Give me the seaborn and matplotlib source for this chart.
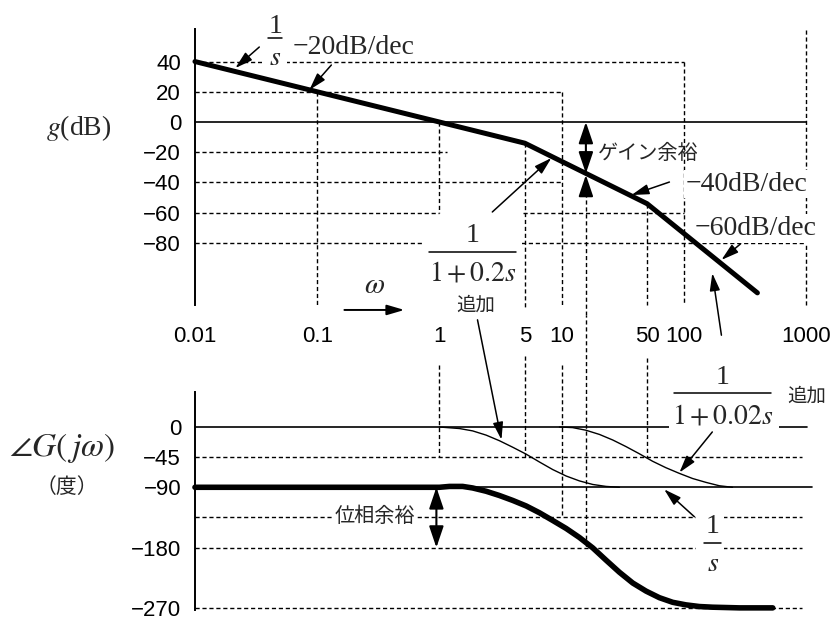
import matplotlib
matplotlib.use('Agg')
import matplotlib.pyplot as plt
from matplotlib.patches import Rectangle
from matplotlib.ticker import NullLocator
from matplotlib.transforms import ScaledTranslation
import seaborn as sns

# ---- values ----
freq_ticks = [0.01, 0.1, 1, 5, 10, 50, 100, 1000]
freq_tick_labels = ['0.01', '0.1', '1', '5', '10', '50', '100', '1000']
gain_ticks = [40, 20, 0, -20, -40, -60, -80]
phase_ticks = [0, -45, -90, -180, -270]

# asymptotic gain of 1 / (s (1+0.2s)(1+0.02s))
gain_w = [0.01, 1, 5, 50, 400]
gain_db = [40, 0, -14, -54, -113]

# phase of the added lag 1/(1+0.2s)
lag1_w = [1, 1.46, 1.87, 2.41, 3.1, 3.98, 5.12, 6.58, 8.45, 10.9, 14.0, 18.0, 23.1, 29.7]
lag1_deg = [0, -2.3, -5.8, -12.1, -20.5, -30.2, -40.5, -52.2, -63.5, -73.2, -80.5, -85.8, -88.7, -90]

# phase of the added lag 1/(1+0.02s)
lag2_w = [9.6, 12.3, 15.8, 20.4, 26.2, 33.6, 43.2, 55.6, 71.4, 91.8, 118, 152, 195, 250]
lag2_deg = [0, -0.9, -4.8, -11.1, -19.4, -29.2, -39.9, -51.2, -60.8, -69.2, -76.9, -82.7, -87.7, -90]

# total phase
phase_w = [0.01, 1.0, 1.21, 1.55, 1.87, 2.41, 3.1, 3.98, 5.12, 6.58, 8.45, 10.9, 14.0, 18.0,
           23.1, 29.7, 38.2, 49.1, 63.1, 81.1, 104, 134, 172, 222, 285, 534]
phase_deg = [-90, -90, -88.7, -88.7, -91, -95.9, -102.3, -109.6, -117.8, -128, -139.5, -151.5,
             -165, -180.5, -198.8, -216.8, -232.9, -245, -254.8, -261.7, -265.5, -268, -269,
             -269.5, -270, -270]

# dashed guides: (level, from w, to w) and (w, from level, to level)
gain_hguides = [(40, 0.01, 100), (20, 0.01, 10), (-20, 0.01, 1.15), (-40, 0.01, 10),
                (-60, 0.01, 1), (-60, 4.8, 100), (-80, 0.01, 1000)]
gain_vguides = [(0.1, 20, -121), (1, 0, -60), (5, -14, -124), (10, 20, -121),
                (50, -54, -121), (100, 40, -121), (1000, 61, -121), (15.8, -47, -140)]
phase_hguides = [(-45, 0.01, 930), (-135, 0.01, 930), (-180, 0.01, 930), (-270, 0.01, 930)]
phase_vguides = [(1, 92, -45), (5, 106, -45), (10, 92, -135), (50, 103, -45), (15.8, 180, -180)]

gain_margin_w, gain_margin_db = 15.8, -34
phase_margin_w = 0.945

# ---- style ----
sns.set_style('white')
plt.rcParams['font.family'] = ['Liberation Sans', 'Noto Sans CJK JP', 'DejaVu Sans']
plt.rcParams['mathtext.fontset'] = 'stix'
SERIF = ['Liberation Serif', 'DejaVu Serif']
JP = ['Noto Sans CJK JP', 'DejaVu Sans']
DASH = (0, (3, 2))
WHITE = dict(facecolor='white', edgecolor='none', pad=1.5)


def minus(v):
    return str(v).replace('-', '\u2212')


def arrow(ax, tail, head, lw=1.1, scale=14, style='-|>,head_length=0.75,head_width=0.22'):
    ax.annotate('', xy=head, xytext=tail, zorder=6,
                arrowprops=dict(arrowstyle=style, color='black', lw=lw,
                                shrinkA=0, shrinkB=0, mutation_scale=scale))


def fraction(ax, w, v, num, den, half, num_up, den_down, mask):
    """Stacked fraction centred on its bar at (w, v); sizes in pixels."""
    tf = ax.figure.dpi_scale_trans + ScaledTranslation(w, v, ax.transData)
    l, r, b, t = mask
    ax.add_patch(Rectangle((l / 100, b / 100), (r - l) / 100, (t - b) / 100, transform=tf,
                           facecolor='white', edgecolor='none', zorder=2.5))
    ax.plot([-half / 100, half / 100], [0, 0], transform=tf, color='black', lw=1.1, zorder=3)
    ax.text(0, num_up / 100, num, transform=tf, ha='center', va='baseline',
            family=SERIF, fontsize=20, zorder=3)
    ax.text(0, -den_down / 100, den, transform=tf, ha='center', va='baseline',
            family=SERIF, fontsize=20, zorder=3)


fig = plt.figure(figsize=(8.31, 6.21), dpi=100)
ax_g = fig.add_axes([0, 305 / 621, 1, 316 / 621])
ax_p = fig.add_axes([0, 0, 1, 305 / 621])

for ax in (ax_g, ax_p):
    ax.set_xscale('log')
    ax.set_xlim(2.54e-4, 1600)
    ax.patch.set_alpha(0)
    for side in ('top', 'right', 'bottom'):
        ax.spines[side].set_visible(False)
    ax.spines['left'].set_position(('data', 0.01))
    ax.spines['left'].set_linewidth(1.4)
    ax.spines['left'].set_color('black')
    ax.xaxis.set_minor_locator(NullLocator())
    ax.tick_params(which='both', length=0, colors='black')

ax_g.set_ylim(-128.3, 80.7)
ax_p.set_ylim(-289.6, 165.7)
ax_g.spines['left'].set_bounds(-121, 61.5)
ax_p.spines['left'].set_bounds(-273, 52)

ax_g.set_xticks(freq_ticks, freq_tick_labels)
ax_g.tick_params(axis='x', pad=7, labelsize=16)
ax_p.set_xticks([])
ax_g.set_yticks(gain_ticks, [minus(v) for v in gain_ticks])
ax_p.set_yticks(phase_ticks, [minus(v) for v in phase_ticks])
for ax in (ax_g, ax_p):
    ax.tick_params(axis='y', pad=10, labelsize=16)

# ---- gain plot ----
ax_g.plot([0.01, 1000], [0, 0], color='black', lw=1.2, zorder=2)
for level, w0, w1 in gain_hguides:
    ax_g.plot([w0, w1], [level, level], color='black', lw=1, ls=DASH, zorder=1)
for w, d0, d1 in gain_vguides:
    ax_g.plot([w, w], [d0, d1], color='black', lw=1, ls=DASH, zorder=1)

sns.lineplot(x=gain_w, y=gain_db, ax=ax_g, color='black', linewidth=3.6,
             sort=False, solid_capstyle='round', zorder=4)

ax_g.text(0.00113, -4, r'$g$(dB)', family=SERIF, fontsize=20, ha='center', va='center')
fraction(ax_g, 0.0455, 55.5, '1', r'$s$', half=7, num_up=5, den_down=27,
         mask=(-13, 12, -30, 23))
ax_g.text(0.2, 49.6, '\u221220dB/dec', family=SERIF, fontsize=20, ha='center', va='center')
fraction(ax_g, 1.88, -86, '1', r'$1+0.2s$', half=43.5, num_up=10, den_down=28,
         mask=(-48.5, 49.5, -33, 29))
ax_g.text(2.0, -121, '追加', family=JP, fontsize=14, ha='center', va='center')
ax_g.text(51.3, -20.5, 'ゲイン余裕', family=JP, fontsize=14.5, ha='center', va='center')
ax_g.text(325, -41, '\u221240dB/dec', family=SERIF, fontsize=20, ha='center', va='center',
          bbox=WHITE, zorder=3)
ax_g.text(385, -70.7, '\u221260dB/dec', family=SERIF, fontsize=20, ha='center', va='center',
          bbox=WHITE, zorder=3)
ax_g.text(0.294, -107.8, r'$\omega$', fontsize=21, ha='center', va='center')
arrow(ax_g, (0.167, -124.3), (0.517, -124.3), lw=1.4)

arrow(ax_g, (0.0336, 49.6), (0.0214, 35.7))
arrow(ax_g, (0.1306, 37.7), (0.0863, 21.2))
arrow(ax_g, (2.71, -59.5), (8.25, -23.8))
arrow(ax_g, (76.2, -39.7), (37.3, -48.3))
arrow(ax_g, (290, -80.7), (203, -91.2))
arrow(ax_g, (203, -141), (171, -100))

# gain margin
arrow(ax_g, (gain_margin_w, 0), (gain_margin_w, gain_margin_db), lw=1.5, scale=20,
      style='<|-|>,head_length=0.65,head_width=0.22')
arrow(ax_g, (gain_margin_w, -47), (gain_margin_w, gain_margin_db - 1), lw=1.5, scale=20,
      style='-|>,head_length=0.65,head_width=0.22')

# ---- phase plot ----
ax_p.plot([0.01, 1025], [0, 0], color='black', lw=1.2, zorder=2)
ax_p.plot([0.01, 1110], [-90, -90], color='black', lw=1.2, zorder=2)
for level, w0, w1 in phase_hguides:
    ax_p.plot([w0, w1], [level, level], color='black', lw=1, ls=DASH, zorder=1)
for w, d0, d1 in phase_vguides:
    ax_p.plot([w, w], [d0, d1], color='black', lw=1, ls=DASH, zorder=1)

sns.lineplot(x=lag1_w, y=lag1_deg, ax=ax_p, color='black', linewidth=1.0, sort=False, zorder=4)
sns.lineplot(x=lag2_w, y=lag2_deg, ax=ax_p, color='black', linewidth=1.0, sort=False, zorder=4)
sns.lineplot(x=phase_w, y=phase_deg, ax=ax_p, color='black', linewidth=4.0,
             sort=False, solid_capstyle='round', zorder=4)

ax_p.text(8.2e-4, -32, r'$\angle G(\,j\omega)$', fontsize=24, ha='center', va='center')
ax_p.text(9.0e-4, -90, '（度）', family=JP, fontsize=15, ha='center', va='center')
ax_p.text(0.294, -134, '位相余裕', family=JP, fontsize=14.5, ha='center', va='center',
          bbox=WHITE, zorder=3)
fraction(ax_p, 209, 50.7, '1', r'$1+0.02s$', half=48.5, num_up=9, den_down=30,
         mask=(-53.5, 56.5, -38, 32))
ax_p.text(1008, 46, '追加', family=JP, fontsize=14, ha='center', va='center')
fraction(ax_p, 173, -173, '1', r'$s$', half=8.5, num_up=10, den_down=28,
         mask=(-16.5, 11.5, -33, 30))

arrow(ax_p, (2.05, 160), (3.22, -19))
arrow(ax_p, (171, -7.4), (92, -68))
arrow(ax_p, (122, -134), (69, -93))

# phase margin
arrow(ax_p, (phase_margin_w, -90), (phase_margin_w, -180), lw=1.5, scale=20,
      style='<|-|>,head_length=0.65,head_width=0.22')

fig.savefig('out.png', dpi=100)
